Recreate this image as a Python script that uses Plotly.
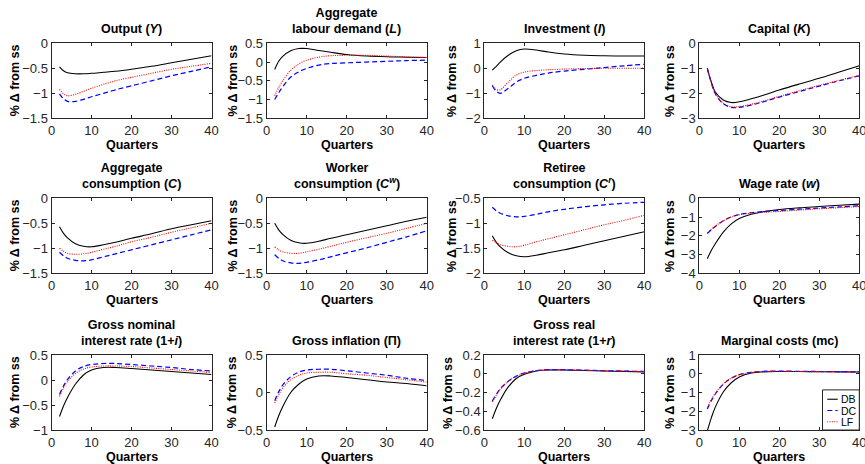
import plotly.graph_objects as go

# ---------------- data ----------------
QUARTERS = [2, 3, 4, 6, 8, 10, 13, 16, 20, 25, 30, 35, 40]
SERIES_NAMES = ["DB", "DC", "LF"]

output_db = [-0.47, -0.55, -0.59, -0.61, -0.61, -0.60, -0.58, -0.56, -0.52, -0.46, -0.39, -0.32, -0.25]
output_dc = [-1.01, -1.11, -1.16, -1.16, -1.12, -1.07, -1.00, -0.93, -0.85, -0.75, -0.65, -0.56, -0.47]
output_lf = [-0.92, -1.01, -1.05, -1.02, -0.96, -0.90, -0.82, -0.75, -0.68, -0.60, -0.52, -0.46, -0.40]

labour_db = [-0.20, 0.02, 0.15, 0.30, 0.36, 0.36, 0.31, 0.26, 0.20, 0.16, 0.14, 0.13, 0.12]
labour_dc = [-1.00, -0.82, -0.66, -0.40, -0.26, -0.17, -0.08, -0.04, -0.02, 0.00, 0.02, 0.04, 0.05]
labour_lf = [-0.90, -0.68, -0.50, -0.22, -0.05, 0.05, 0.13, 0.17, 0.18, 0.18, 0.16, 0.14, 0.12]

invest_db = [-0.07, 0.08, 0.25, 0.52, 0.70, 0.77, 0.73, 0.65, 0.57, 0.52, 0.50, 0.49, 0.49]
invest_dc = [-0.70, -0.92, -1.00, -0.80, -0.55, -0.40, -0.28, -0.19, -0.11, -0.04, 0.03, 0.10, 0.16]
invest_lf = [-0.67, -0.85, -0.86, -0.55, -0.27, -0.15, -0.09, -0.06, -0.03, -0.01, 0.00, 0.00, 0.00]

capital_db = [-1.00, -1.55, -1.95, -2.27, -2.37, -2.34, -2.22, -2.08, -1.87, -1.63, -1.40, -1.15, -0.90]
capital_dc = [-1.00, -1.58, -2.02, -2.42, -2.56, -2.56, -2.47, -2.34, -2.15, -1.93, -1.71, -1.50, -1.30]
capital_lf = [-1.00, -1.57, -2.00, -2.40, -2.54, -2.53, -2.44, -2.31, -2.12, -1.90, -1.68, -1.48, -1.28]

cons_db = [-0.57, -0.70, -0.79, -0.91, -0.96, -0.97, -0.93, -0.88, -0.80, -0.71, -0.61, -0.53, -0.45]
cons_dc = [-1.08, -1.15, -1.20, -1.24, -1.25, -1.23, -1.17, -1.11, -1.03, -0.93, -0.83, -0.73, -0.63]
cons_lf = [-1.00, -1.06, -1.10, -1.12, -1.11, -1.08, -1.02, -0.96, -0.87, -0.78, -0.68, -0.59, -0.50]

worker_db = [-0.50, -0.63, -0.72, -0.84, -0.89, -0.90, -0.86, -0.80, -0.73, -0.64, -0.55, -0.46, -0.38]
worker_dc = [-1.13, -1.20, -1.25, -1.29, -1.30, -1.28, -1.23, -1.17, -1.09, -0.99, -0.88, -0.77, -0.65]
worker_lf = [-0.97, -1.03, -1.07, -1.10, -1.10, -1.07, -1.02, -0.96, -0.88, -0.79, -0.70, -0.60, -0.50]

retiree_db = [-1.25, -1.38, -1.47, -1.59, -1.65, -1.67, -1.64, -1.59, -1.53, -1.44, -1.35, -1.26, -1.17]
retiree_dc = [-0.68, -0.75, -0.80, -0.85, -0.87, -0.86, -0.82, -0.77, -0.72, -0.67, -0.63, -0.60, -0.58]
retiree_lf = [-1.34, -1.39, -1.43, -1.46, -1.47, -1.44, -1.37, -1.31, -1.23, -1.13, -1.03, -0.94, -0.84]

wage_db = [-3.22, -2.78, -2.42, -1.80, -1.36, -1.08, -0.85, -0.72, -0.60, -0.51, -0.44, -0.37, -0.31]
wage_dc = [-1.88, -1.68, -1.50, -1.20, -0.99, -0.86, -0.77, -0.71, -0.65, -0.58, -0.52, -0.46, -0.40]
wage_lf = [-1.85, -1.65, -1.48, -1.20, -1.00, -0.88, -0.80, -0.75, -0.70, -0.63, -0.56, -0.50, -0.44]

nominal_db = [-0.73, -0.52, -0.35, -0.08, 0.10, 0.20, 0.25, 0.25, 0.23, 0.20, 0.17, 0.14, 0.11]
nominal_dc = [-0.29, -0.12, 0.01, 0.18, 0.27, 0.31, 0.33, 0.33, 0.31, 0.28, 0.25, 0.21, 0.18]
nominal_lf = [-0.33, -0.16, -0.03, 0.13, 0.22, 0.26, 0.28, 0.28, 0.27, 0.24, 0.21, 0.18, 0.15]

inflation_db = [-0.46, -0.31, -0.19, 0.00, 0.11, 0.18, 0.22, 0.22, 0.20, 0.17, 0.14, 0.12, 0.09]
inflation_dc = [-0.11, 0.01, 0.10, 0.21, 0.27, 0.30, 0.31, 0.31, 0.29, 0.26, 0.23, 0.19, 0.16]
inflation_lf = [-0.14, -0.03, 0.06, 0.17, 0.23, 0.26, 0.27, 0.27, 0.25, 0.23, 0.20, 0.17, 0.14]

real_db = [-0.48, -0.37, -0.28, -0.14, -0.05, -0.005, 0.030, 0.040, 0.040, 0.035, 0.030, 0.025, 0.020]
real_dc = [-0.29, -0.22, -0.16, -0.08, -0.025, 0.008, 0.033, 0.043, 0.043, 0.038, 0.033, 0.028, 0.025]
real_lf = [-0.30, -0.23, -0.165, -0.08, -0.027, 0.006, 0.032, 0.042, 0.042, 0.037, 0.032, 0.027, 0.024]

mc_db = [-3.05, -2.35, -1.78, -0.97, -0.48, -0.17, 0.04, 0.10, 0.12, 0.12, 0.11, 0.10, 0.09]
mc_dc = [-1.88, -1.44, -1.08, -0.56, -0.24, -0.05, 0.08, 0.13, 0.14, 0.13, 0.12, 0.11, 0.10]
mc_lf = [-1.80, -1.38, -1.04, -0.54, -0.23, -0.05, 0.07, 0.12, 0.13, 0.12, 0.11, 0.10, 0.09]

PANEL_TITLES = [
    "Output (<i>Y</i>)",
    "Aggregate<br>labour demand (<i>L</i>)",
    "Investment (<i>I</i>)",
    "Capital (<i>K</i>)",
    "Aggregate<br>consumption (<i>C</i>)",
    "Worker<br>consumption (<i>C</i><sup><i>w</i></sup>)",
    "Retiree<br>consumption (<i>C</i><sup><i>r</i></sup>)",
    "Wage rate (<i>w</i>)",
    "Gross nominal<br>interest rate (1+<i>i</i>)",
    "Gross inflation (\u03a0)",
    "Gross real<br>interest rate (1+<i>r</i>)",
    "Marginal costs (mc)",
]
PANEL_DATA = [
    (output_db, output_dc, output_lf),
    (labour_db, labour_dc, labour_lf),
    (invest_db, invest_dc, invest_lf),
    (capital_db, capital_dc, capital_lf),
    (cons_db, cons_dc, cons_lf),
    (worker_db, worker_dc, worker_lf),
    (retiree_db, retiree_dc, retiree_lf),
    (wage_db, wage_dc, wage_lf),
    (nominal_db, nominal_dc, nominal_lf),
    (inflation_db, inflation_dc, inflation_lf),
    (real_db, real_dc, real_lf),
    (mc_db, mc_dc, mc_lf),
]
Y_RANGES = [(-1.5, 0), (-1.5, 0.5), (-2, 1), (-3, 0),
            (-1.5, 0), (-1.5, 0), (-2, -0.5), (-4, 0),
            (-1, 0.5), (-0.5, 0.5), (-0.6, 0.2), (-3, 1)]
Y_DTICKS = [0.5, 0.5, 1, 1, 0.5, 0.5, 0.5, 1, 0.5, 0.5, 0.2, 1]
X_RANGE = (0, 40)
X_LABEL = "Quarters"
Y_LABEL = "% \u0394 from ss"

# ---------------- layout geometry (pixels) ----------------
W, H = 865, 464
COL_LEFT = [51.5, 266.7, 484.3, 699.3]
ROW_TOP = [43.3, 198.3, 355.0]
PW, PH = 160.0, 75.0
YLAB_OFF = [37, 34, 33, 30, 37, 34, 33, 30, 37, 35, 37, 30]

STYLES = [
    dict(color="#000000", width=1.1),
    dict(color="#0000ff", width=1.2, dash="5px,3px"),
    dict(color="#ff0000", width=1.1, dash="1px,1.3px"),
]

FONT = "Liberation Sans, Arial, Helvetica, sans-serif"
AXC = "#262626"

fig = go.Figure()
annotations = []
shapes = []
layout = {}

for k in range(12):
    r, c = divmod(k, 4)
    x0 = COL_LEFT[c] / W
    x1 = (COL_LEFT[c] + PW) / W
    y1 = 1 - ROW_TOP[r] / H
    y0 = 1 - (ROW_TOP[r] + PH) / H
    sfx = "" if k == 0 else str(k + 1)
    xa, ya = "x" + sfx, "y" + sfx
    for s in range(3):
        fig.add_trace(go.Scatter(
            x=QUARTERS, y=PANEL_DATA[k][s], mode="lines",
            name=SERIES_NAMES[s], line=dict(shape="spline", **STYLES[s]),
            xaxis=xa, yaxis=ya, showlegend=False, legendgroup=SERIES_NAMES[s],
            hoverinfo="skip",
        ))
    common = dict(showline=True, mirror="ticks", linecolor=AXC, linewidth=1,
                  ticks="inside", ticklen=3, tickcolor=AXC, tickwidth=1,
                  showgrid=False, zeroline=False, automargin=False,
                  ticklabeloverflow="allow",
                  tickfont=dict(family=FONT, size=13, color=AXC))
    layout["xaxis" + sfx] = dict(domain=[x0, x1], anchor=ya, range=list(X_RANGE),
                                 dtick=10, tick0=0, **common)
    layout["yaxis" + sfx] = dict(domain=[y0, y1], anchor=xa, range=list(Y_RANGES[k]),
                                 dtick=Y_DTICKS[k], tick0=0, **common)
    xc = (x0 + x1) / 2
    annotations.append(dict(text="<b>" + PANEL_TITLES[k] + "</b>", x=xc, y=y1,
                            xref="paper", yref="paper", xanchor="center", yanchor="bottom",
                            yshift=5, showarrow=False,
                            font=dict(family=FONT, size=12.5, color="#000000")))
    annotations.append(dict(text="<b>" + X_LABEL + "</b>", x=xc, y=y0,
                            xref="paper", yref="paper", xanchor="center", yanchor="middle",
                            yshift=-27, showarrow=False,
                            font=dict(family=FONT, size=12.5, color="#000000")))
    annotations.append(dict(text="<b>" + Y_LABEL + "</b>", x=x0, y=(y0 + y1) / 2,
                            xref="paper", yref="paper", xanchor="center", yanchor="middle",
                            xshift=-YLAB_OFF[k], textangle=-90, showarrow=False,
                            font=dict(family=FONT, size=12.5, color="#000000")))

# legend box drawn inside the last panel (lower-right corner), MATLAB style
LEG_X = (0.77, 1.0)
LEG_TOP = 0.535
LEG_ROWS = [0.41, 0.26, 0.11]
shapes.append(dict(type="rect", xref="x12 domain", yref="y12 domain",
                   x0=LEG_X[0], x1=LEG_X[1], y0=0, y1=LEG_TOP,
                   line=dict(color=AXC, width=1), fillcolor="white", layer="above"))
for s in range(3):
    st = STYLES[s]
    shapes.append(dict(type="line", xref="x12 domain", yref="y12 domain",
                       x0=0.80, x1=0.865, y0=LEG_ROWS[s], y1=LEG_ROWS[s],
                       line=dict(color=st["color"], width=st["width"], dash=st.get("dash", "solid")),
                       layer="above"))
    annotations.append(dict(text=SERIES_NAMES[s], x=0.87, y=LEG_ROWS[s],
                            xref="x12 domain", yref="y12 domain",
                            xanchor="left", yanchor="middle", showarrow=False,
                            font=dict(family=FONT, size=10.5, color="#000000")))

layout["annotations"] = annotations
layout["shapes"] = shapes
fig.update_layout(
    width=W, height=H, margin=dict(l=0, r=0, t=0, b=0, pad=0, autoexpand=False),
    paper_bgcolor="white", plot_bgcolor="white",
    font=dict(family=FONT, color=AXC),
    showlegend=False,
    **layout,
)
fig.write_html("out.html", config={"displayModeBar": False},
               post_script="document.body.style.margin='0';")
